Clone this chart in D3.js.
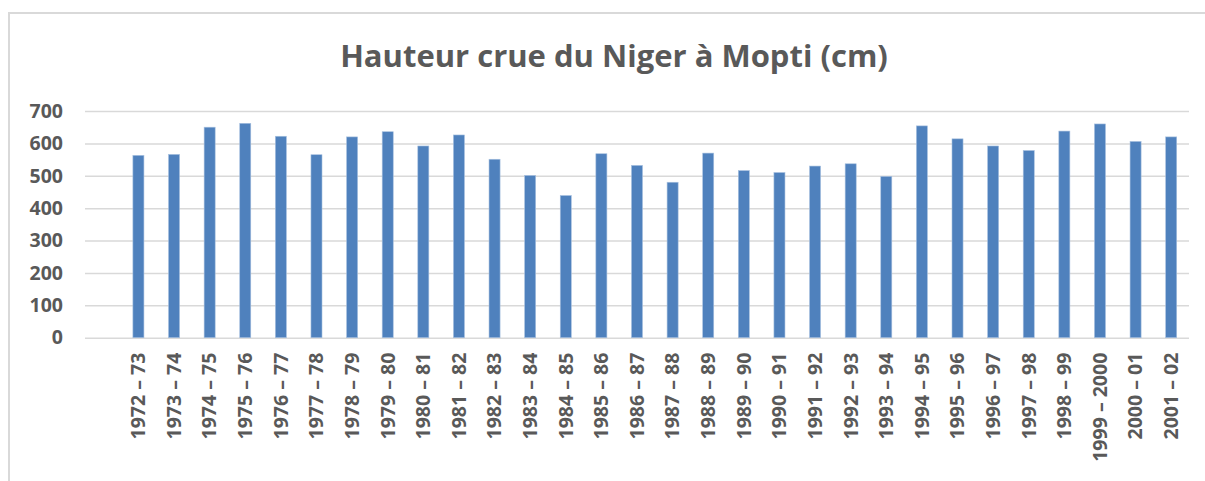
<!DOCTYPE html>
<html>
  <head>
    <meta charset="utf-8">
    <script src="https://d3js.org/d3.v7.min.js"></script>
    <style>
      body { margin: 0; background: #fff; }
      svg { display: block; font-family: 'Open Sans', sans-serif; }
      .title { font-size: 31px; font-weight: 700; fill: #595959; }
      .tick text {
        font-family: 'Open Sans', sans-serif;
        font-size: 19.5px;
        font-weight: 700;
        fill: #595959;
      }
    </style>
    <title>Hauteur crue du Niger à Mopti</title>
  </head>
  <body>
    <svg></svg>

    <script type="text/javascript">
      // periods (the sheet had one blank row before the first period)
      const periods = [
        '1972 – 73', '1973 – 74', '1974 – 75', '1975 – 76', '1976 – 77',
        '1977 – 78', '1978 – 79', '1979 – 80', '1980 – 81', '1981 – 82',
        '1982 – 83', '1983 – 84', '1984 – 85', '1985 – 86', '1986 – 87',
        '1987 – 88', '1988 – 89', '1989 – 90', '1990 – 91', '1991 – 92',
        '1992 – 93', '1993 – 94', '1994 – 95', '1995 – 96', '1996 – 97',
        '1997 – 98', '1998 – 99', '1999 – 2000', '2000 – 01', '2001 – 02'
      ]
      // flood height in cm
      const heights = [
        563, 566, 650, 662, 622, 565, 620, 636, 592, 626,
        551, 501, 439, 568, 532, 480, 570, 516, 510, 530,
        537, 498, 654, 614, 592, 578, 638, 660, 606, 620
      ]
      const yTicks = [0, 100, 200, 300, 400, 500, 600, 700]

      const width = 1205
      const height = 481
      const plotLeft = 85
      const plotRight = 1189
      const plotTop = 111
      const plotBottom = 337.7

      const data = periods.map((p, i) => ({period: p, value: heights[i]}))

      const svg =
        d3.select('svg')
          .attr('width', width)
          .attr('height', height)

      // chart frame
      svg.append('rect')
        .attr('x', 9)
        .attr('y', 13)
        .attr('width', width)
        .attr('height', height)
        .attr('fill', 'none')
        .attr('stroke', '#d9d9d9')
        .attr('stroke-width', 2)

      svg.append('text')
        .attr('class', 'title')
        .attr('x', 614)
        .attr('y', 67)
        .attr('text-anchor', 'middle')
        .text('Hauteur crue du Niger à Mopti (cm)')

      const x =
        d3.scaleBand()
          .domain([''].concat(periods))
          .range([plotLeft, plotRight])
          .paddingInner(0.69)
          .paddingOuter(0.345)

      const y =
        d3.scaleLinear()
          .domain([0, 700])
          .range([plotBottom, plotTop])

      const yAxis =
        svg.append('g')
          .attr('transform', `translate(${plotLeft},0)`)
          .call(
            d3.axisLeft(y)
              .tickValues(yTicks)
              .tickSize(-(plotRight - plotLeft))
              .tickPadding(22)
          )

      yAxis.select('.domain').remove()
      yAxis.selectAll('.tick line')
        .attr('stroke', '#d9d9d9')
        .attr('stroke-width', 1.5)

      svg.selectAll('.bar')
        .data(data)
        .enter()
        .append('rect')
          .attr('class', 'bar')
          .attr('x', d => x(d.period))
          .attr('width', x.bandwidth())
          .attr('y', d => y(d.value))
          .attr('height', d => y(0) - y(d.value))
          .attr('fill', '#4f81bd')
          .attr('stroke', '#a7c0df')
          .attr('stroke-width', 0.6)

      const xAxis =
        svg.append('g')
          .attr('transform', `translate(0,${plotBottom})`)
          .call(d3.axisBottom(x).tickValues(periods).tickSize(0))

      xAxis.select('.domain').remove()
      xAxis.selectAll('.tick text')
        .attr('transform', 'rotate(-90)')
        .attr('text-anchor', 'end')
        .attr('x', -15)
        .attr('y', 0)
        .attr('dy', '0.35em')
    </script>
  </body>
</html>
